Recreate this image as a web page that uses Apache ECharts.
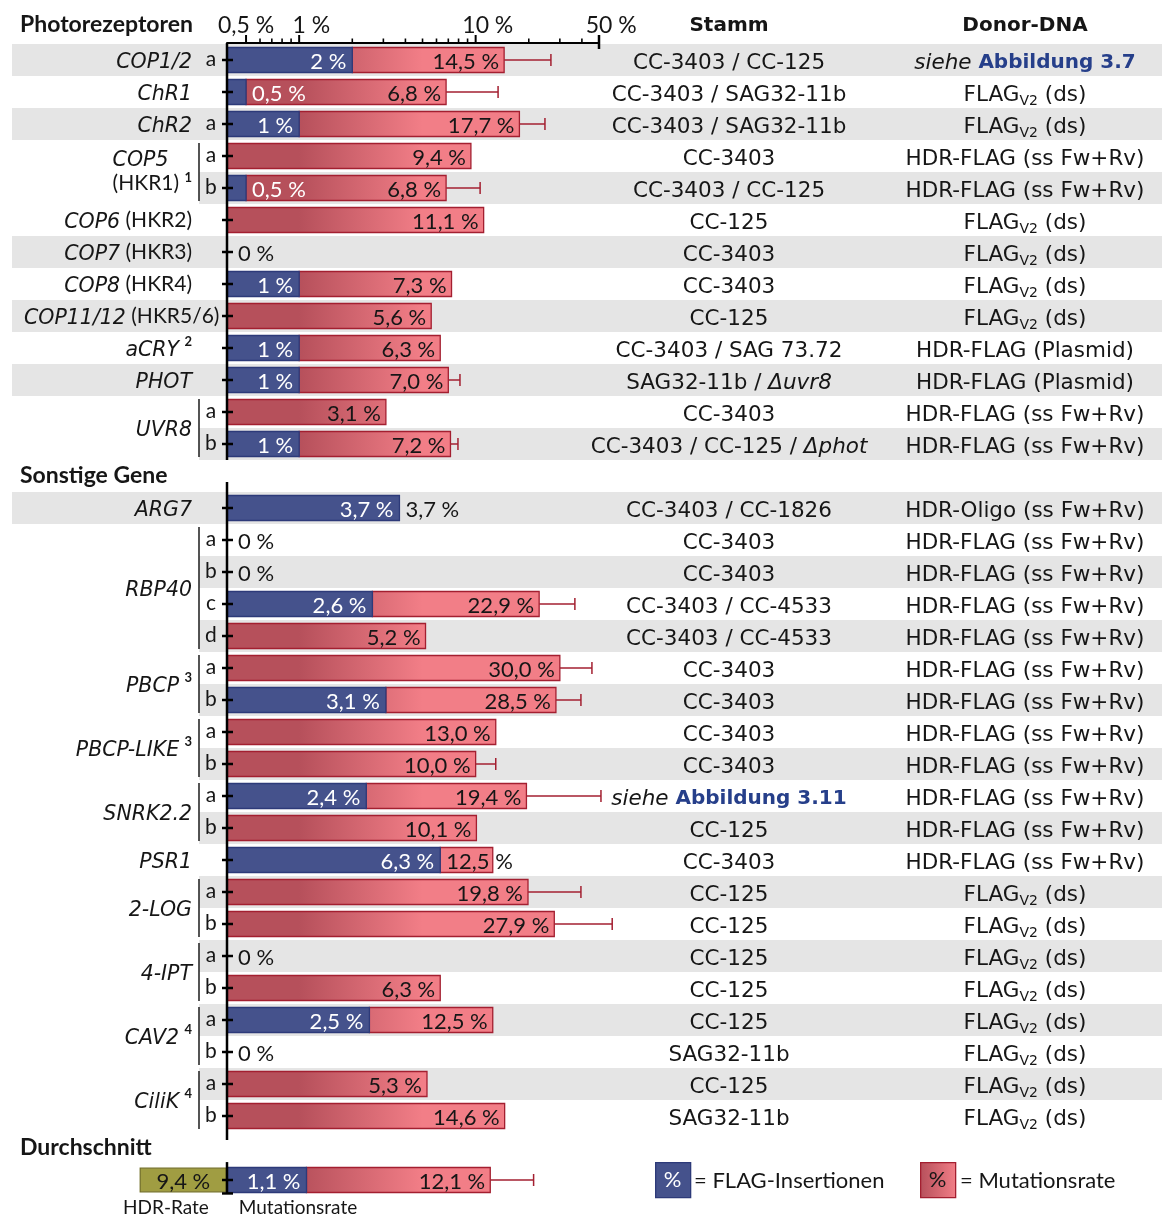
<!DOCTYPE html>
<html>
<head>
<meta charset="utf-8">
<script src="https://cdn.jsdelivr.net/npm/echarts@6/dist/echarts.min.js"></script>
<style>
  html, body { margin: 0; padding: 0; background: #ffffff; }
  #chart { width: 1162px; height: 1217px; }
</style>
</head>
<body>
<div id="chart"></div>
<script>
// ---------------------------------------------------------------
// Data
// ---------------------------------------------------------------
const sectionTitles = ['Photorezeptoren', 'Sonstige Gene', 'Durchschnitt'];
const sectionRowCounts = [13, 20];

// gene name (rich markup), shared by the rows of one gene
const geneLabels = [
  '{i|COP1/2}', '{i|ChR1}', '{i|ChR2}',
  '{i2|COP5}\n{n2|(HKR1) }{s2|1}', '{i2|COP5}\n{n2|(HKR1) }{s2|1}',
  '{i|COP6} (HKR2)', '{i|COP7} (HKR3)', '{i|COP8} (HKR4)', '{i|COP11/12} (HKR5/6)',
  '{i|aCRY} {s|2}', '{i|PHOT}', '{i|UVR8}', '{i|UVR8}',
  '{i|ARG7}',
  '{i|RBP40}', '{i|RBP40}', '{i|RBP40}', '{i|RBP40}',
  '{i|PBCP} {s|3}', '{i|PBCP} {s|3}',
  '{i|PBCP-LIKE} {s|3}', '{i|PBCP-LIKE} {s|3}',
  '{i|SNRK2.2}', '{i|SNRK2.2}',
  '{i|PSR1}',
  '{i|2-LOG}', '{i|2-LOG}',
  '{i|4-IPT}', '{i|4-IPT}',
  '{i|CAV2} {s|4}', '{i|CAV2} {s|4}',
  '{i|CiliK} {s|4}', '{i|CiliK} {s|4}'
];
const rowLetters = [
  'a', '', 'a', 'a', 'b', '', '', '', '', '', '', 'a', 'b',
  '', 'a', 'b', 'c', 'd', 'a', 'b', 'a', 'b', 'a', 'b', '', 'a', 'b', 'a', 'b', 'a', 'b', 'a', 'b'
];
// FLAG insertion rate (%)
const flagRate = [
  2, 0.5, 1, 0, 0.5, 0, 0, 1, 0, 1, 1, 0, 1,
  3.7, 0, 0, 2.6, 0, 0, 3.1, 0, 0, 2.4, 0, 6.3, 0, 0, 0, 0, 2.5, 0, 0, 0
];
// mutation rate (%)
const mutationRate = [
  14.5, 6.8, 17.7, 9.4, 6.8, 11.1, 0, 7.3, 5.6, 6.3, 7.0, 3.1, 7.2,
  3.7, 0, 0, 22.9, 5.2, 30.0, 28.5, 13.0, 10.0, 19.4, 10.1, 12.5, 19.8, 27.9, 0, 6.3, 12.5, 0, 5.3, 14.6
];
// upper end of the error whisker (%), null = none
const errorUpper = [
  26.7, 13.4, 24.7, null, 10.6, null, null, null, null, null, 8.15, null, 7.94,
  null, null, null, 36.5, null, 45.6, 39.5, null, 13.0, 51.3, null, null, 39.5, 59.4, null, null, null, null, null, null
];
const strains = [
  'CC-3403 / CC-125', 'CC-3403 / SAG32-11b', 'CC-3403 / SAG32-11b', 'CC-3403', 'CC-3403 / CC-125',
  'CC-125', 'CC-3403', 'CC-3403', 'CC-125', 'CC-3403 / SAG 73.72', 'SAG32-11b / {i|Δuvr8}',
  'CC-3403', 'CC-3403 / CC-125 / {i|Δphot}',
  'CC-3403 / CC-1826', 'CC-3403', 'CC-3403', 'CC-3403 / CC-4533', 'CC-3403 / CC-4533',
  'CC-3403', 'CC-3403', 'CC-3403', 'CC-3403', '{i|siehe} {b|Abbildung 3.11}', 'CC-125', 'CC-3403',
  'CC-125', 'CC-125', 'CC-125', 'CC-125', 'CC-125', 'SAG32-11b', 'CC-125', 'SAG32-11b'
];
const FLAGV2 = 'FLAG{sub|V2} (ds)';
const HDR_SS = 'HDR-FLAG (ss Fw+Rv)';
const donors = [
  '{i|siehe} {b|Abbildung 3.7}', FLAGV2, FLAGV2, HDR_SS, HDR_SS, FLAGV2, FLAGV2, FLAGV2, FLAGV2,
  'HDR-FLAG (Plasmid)', 'HDR-FLAG (Plasmid)', HDR_SS, HDR_SS,
  'HDR-Oligo (ss Fw+Rv)', HDR_SS, HDR_SS, HDR_SS, HDR_SS, HDR_SS, HDR_SS, HDR_SS, HDR_SS, HDR_SS, HDR_SS, HDR_SS,
  FLAGV2, FLAGV2, FLAGV2, FLAGV2, FLAGV2, FLAGV2, FLAGV2, FLAGV2
];
// averages
const avgHdrRate = 9.4;
const avgFlagRate = 1.1;
const avgMutationRate = 12.1;
const avgErrorUpper = 21.3;

// axis
const axisMin = 0.39, axisMax = 50;
const majorTicks = [0.5, 1, 10, 50];
const minorTicks = [0.6, 0.7, 0.8, 0.9, 2, 3, 4, 5, 6, 7, 8, 9, 20, 30, 40];

// ---------------------------------------------------------------
// Layout of rows (one slot per row, section titles take a slot)
// ---------------------------------------------------------------
const titleSlots = [];
const rowSlots = [];
let slotCursor = 0;
sectionRowCounts.forEach(n => {
  titleSlots.push(slotCursor++);
  for (let j = 0; j < n; j++) rowSlots.push(slotCursor++);
});
titleSlots.push(slotCursor++);
const avgSlot = slotCursor;
const Y_MIN = 0.46875, Y_MAX = avgSlot + 0.5;

// groups of consecutive rows sharing one gene name
const groups = [];
geneLabels.forEach((g, i) => {
  const last = groups[groups.length - 1];
  if (last && last.label === g && rowLetters[i]) last.rows.push(i);
  else groups.push({ label: g, rows: [i] });
});
const rowInBracket = geneLabels.map(() => false);
groups.forEach(g => { if (g.rows.length > 1) g.rows.forEach(i => { rowInBracket[i] = true; }); });

const barRows = rowSlots.map((slot, i) => ({
  slot, flag: flagRate[i], mut: mutationRate[i], err: errorUpper[i]
}));
barRows.push({ slot: avgSlot, flag: avgFlagRate, mut: avgMutationRate, err: avgErrorUpper });

// ---------------------------------------------------------------
// Styles
// ---------------------------------------------------------------
const LATO = 'Lato';
const COLF = 'DejaVu Sans';
const INK = '#161616';
const BLUE = '#45528c', BLUE_EDGE = '#2d3a79';
const RED_DARK = '#b6505b', RED_LIGHT = '#f27e87', RED_EDGE = '#a31f30';
const OLIVE = '#a09d42', OLIVE_EDGE = '#75722a';
const BAND = '#e5e5e5';
const LINK = '#263f8a';
const COL_SIZE = 21.5;
const GENE_SIZE = 20.5;

function tok(size, family, weight, style, extra) {
  return Object.assign({ fontSize: size, fontFamily: family, fontWeight: weight || 'normal', fontStyle: style || 'normal' }, extra || {});
}
const geneBase = tok(21, LATO, 'normal', 'normal');
// the oblique gene names sit a little lower than the upright parts
const geneRich = {
  i: tok(GENE_SIZE, COLF, 'normal', 'italic', { lineHeight: 26, padding: [5, 0, 0, 0] }),
  s: tok(13, LATO, 'bold', 'normal', { lineHeight: 20, verticalAlign: 'top' }),
  i2: tok(GENE_SIZE, COLF, 'normal', 'italic', { lineHeight: 25, align: 'left', padding: [5, 0, 0, 0] }),
  n2: tok(21, LATO, 'normal', 'normal', { lineHeight: 25, align: 'left' }),
  s2: tok(13, LATO, 'bold', 'normal', { lineHeight: 19, verticalAlign: 'top', align: 'left' })
};
const colRich = {
  i: tok(COL_SIZE, COLF, 'normal', 'italic', { lineHeight: 26 }),
  b: tok(20, COLF, 'bold', 'normal', { lineHeight: 26, fill: LINK }),
  sub: tok(14, COLF, 'normal', 'normal', { lineHeight: 18, verticalAlign: 'bottom' })
};

const measureCtx = document.createElement('canvas').getContext('2d');
function cssFont(t) { return t.fontStyle + ' ' + t.fontWeight + ' ' + t.fontSize + 'px "' + t.fontFamily + '"'; }
function textWidth(str, font) { measureCtx.font = font; return measureCtx.measureText(str).width; }
function fmt(v, oneDecimal) { return (oneDecimal ? v.toFixed(1) : String(v)).replace('.', ',') + ' %'; }
// width of a rich label: widest line, each token in its own font
function richWidth(markup, rich, base) {
  return Math.max.apply(null, markup.split('\n').map(l => {
    let w = 0;
    l.replace(/\{(\w+)\|([^}]*)\}|([^{]+)/g, (m, name, inner, plain) => {
      w += name ? textWidth(inner, cssFont(rich[name])) : textWidth(plain, cssFont(base));
      return m;
    });
    return w;
  }));
}

function line(x1, y1, x2, y2, w, color) {
  return { type: 'line', shape: { x1, y1, x2, y2 }, style: { stroke: color || '#000', lineWidth: w } };
}
function label(text, x, y, align, fill, size, family, weight, style, extra) {
  return {
    type: 'text',
    style: Object.assign({
      text, x, y, align, verticalAlign: 'middle', fill,
      fontSize: size, fontFamily: family, fontWeight: weight || 'normal', fontStyle: style || 'normal'
    }, extra || {})
  };
}

// ---------------------------------------------------------------
// Render functions
// ---------------------------------------------------------------
function renderBackdrop(params, api) {
  const c = [];
  const ax = api.coord([axisMin, 0])[0];
  const right = api.getWidth();
  rowSlots.forEach((slot, i) => {
    if (slot % 2 !== 1) return;
    const y = api.coord([axisMin, slot])[1];
    const left = rowInBracket[i] ? ax - 28 : 12;
    c.push({ type: 'rect', shape: { x: left, y: y - 16, width: right - left, height: 32 }, style: { fill: BAND } });
  });
  return { type: 'group', children: c };
}

function renderBars(params, api) {
  const r = barRows[params.dataIndex];
  const p0 = api.coord([axisMin, r.slot]);
  const x0 = p0[0], y = p0[1];
  const ty = y + 1.5;
  const h = 25;
  const c = [];
  const LBL = '22px Lato';
  if (!(r.mut > 0)) {
    c.push(label('0 %', x0 + 11, ty, 'left', INK, 22, LATO));
    return { type: 'group', children: c };
  }
  const xf = r.flag > 0 ? api.coord([r.flag, r.slot])[0] : x0;
  const xm = api.coord([r.mut, r.slot])[0];
  if (r.err) {
    const xe = api.coord([r.err, r.slot])[0];
    c.push(line(xm, y, xe, y, 1.5, RED_EDGE));
    c.push(line(xe, y - 6, xe, y + 6, 1.5, RED_EDGE));
  }
  if (xm > xf + 0.5) {
    const g0 = api.coord([1, r.slot])[0], g1 = api.coord([5, r.slot])[0];
    c.push({
      type: 'rect', shape: { x: xf, y: y - h / 2, width: xm - xf, height: h },
      style: {
        fill: { type: 'linear', x: g0, y: 0, x2: g1, y2: 0, global: true,
          colorStops: [{ offset: 0, color: RED_DARK }, { offset: 1, color: RED_LIGHT }] },
        stroke: RED_EDGE, lineWidth: 1.3
      }
    });
  }
  if (xf > x0) {
    c.push({ type: 'rect', shape: { x: x0, y: y - h / 2, width: xf - x0, height: h },
      style: { fill: BLUE, stroke: BLUE_EDGE, lineWidth: 1.3 } });
    const s = fmt(r.flag);
    const w = textWidth(s, LBL);
    if (xf - x0 >= w + 12) c.push(label(s, xf - 6, ty, 'right', '#ffffff', 22, LATO));
    else c.push(label(s, xf + 6, ty, 'left', '#ffffff', 22, LATO));
  }
  const m = fmt(r.mut, true);
  const wm = textWidth(m, LBL);
  if (xm - xf >= wm + 12) c.push(label(m, xm - 5, ty, 'right', INK, 22, LATO));
  else c.push(label(m, xf + 6, ty, 'left', INK, 22, LATO));
  return { type: 'group', children: c };
}

function renderFrame(params, api) {
  const c = [];
  const ax = api.coord([axisMin, 0])[0];
  const ay = k => api.coord([axisMin, k])[1];
  const topY = ay(Y_MIN);

  // x axis ticks and labels (numbers centred on their tick, the first label as a whole)
  minorTicks.forEach(v => {
    const x = api.coord([v, Y_MIN])[0];
    c.push(line(x, topY, x, topY - 4.5, 1.6));
  });
  majorTicks.forEach((v, i) => {
    const x = api.coord([v, Y_MIN])[0];
    c.push(line(x, topY, x, topY - 8, 2));
    const num = String(v).replace('.', ',');
    const text = i === 0 ? num + ' %' : '{h| %}' + num + ' %';
    c.push(label(text, x, topY - 17, 'center', INK, 23, LATO, 'normal', 'normal', {
      rich: { h: tok(23, LATO, 'normal', 'normal', { fill: 'rgba(0,0,0,0)' }) }
    }));
  });
  const xEnd = api.coord([axisMax, Y_MIN])[0];
  c.push(line(xEnd, topY - 8, xEnd, topY + 6, 2.5));

  // y axis, broken at the section titles
  [[Y_MIN, 13.5], [14.19, 34.75], [35.44, 36.42]].forEach(([k0, k1]) => {
    c.push(line(ax, ay(k0), ax, ay(k1), 2.5));
  });
  c.push(line(ax - 5, ay(36.42), ax + 6, ay(36.42), 2.5));
  barRows.forEach(r => {
    const y = ay(r.slot);
    c.push(line(ax - 5, y, ax + 6, y, 2.5));
  });

  // section titles
  sectionTitles.forEach((t, i) => {
    const y = ay(titleSlots[i]) - (i === 0 ? 3 : 0);
    c.push(label(t, 20, y, 'left', INK, 23, LATO, 'bold'));
  });
  c.push(label('Stamm', 729, ay(0) - 2, 'center', INK, 20, COLF, 'bold'));
  c.push(label('Donor-DNA', 1025, ay(0) - 2, 'center', INK, 20, COLF, 'bold'));

  // gene names, brackets and letters
  groups.forEach(g => {
    const ys = g.rows.map(i => ay(rowSlots[i]));
    const yMid = (ys[0] + ys[ys.length - 1]) / 2;
    const twoLine = g.label.indexOf('\n') >= 0;
    // long names are pushed right so they start at the band edge
    const xr = Math.max(ax - 35, 24 + richWidth(g.label, geneRich, geneBase));
    c.push(label(g.label, xr, yMid + (twoLine ? -1 : 0), 'right', INK, 21, LATO, 'normal', 'normal', {
      rich: geneRich, lineHeight: 26
    }));
    if (g.rows.length > 1) {
      c.push(line(ax - 28, ys[0] - 13, ax - 28, ys[ys.length - 1] + 13, 1.6, '#2a2a2a'));
    }
  });
  rowLetters.forEach((l, i) => {
    if (l) c.push(label(l, ax - 16, ay(rowSlots[i]) - 1, 'center', INK, 21, LATO));
  });

  // strain and donor columns
  rowSlots.forEach((slot, i) => {
    const y = ay(slot) + 3;
    c.push(label(strains[i], 729, y, 'center', INK, COL_SIZE, COLF, 'normal', 'normal', { rich: colRich, lineHeight: 26 }));
    c.push(label(donors[i], 1025, y, 'center', INK, COL_SIZE, COLF, 'normal', 'normal', { rich: colRich, lineHeight: 26 }));
  });

  // captions under the average row
  const yCap = ay(avgSlot) + 28;
  c.push(label('HDR-Rate', ax - 61, yCap, 'center', INK, 19, LATO));
  c.push(label('Mutationsrate', ax + 71, yCap, 'center', INK, 19, LATO));
  return { type: 'group', children: c };
}

// ---------------------------------------------------------------
// Chart
// ---------------------------------------------------------------
const chart = echarts.init(document.getElementById('chart'), null, { renderer: 'canvas' });

chart.setOption({
  animation: false,
  backgroundColor: '#ffffff',
  grid: [
    { left: 227, right: 563, top: 43, bottom: 21 },
    { left: 134, width: 93, top: 1167.5, height: 25 }
  ],
  xAxis: [
    {
      gridIndex: 0, type: 'log', logBase: 10, min: axisMin, max: axisMax, position: 'top',
      axisLine: { show: true, onZero: false, lineStyle: { color: '#000', width: 2 } },
      axisTick: { show: false }, axisLabel: { show: false }, splitLine: { show: false }
    },
    { gridIndex: 1, type: 'value', inverse: true, min: 0, max: 10, show: false }
  ],
  yAxis: [
    { gridIndex: 0, type: 'value', inverse: true, min: Y_MIN, max: Y_MAX, show: false },
    { gridIndex: 1, type: 'category', data: [''], show: false }
  ],
  graphic: [
    { type: 'rect', left: 655, top: 1162, shape: { width: 35, height: 35 }, style: { fill: BLUE, stroke: BLUE_EDGE, lineWidth: 1.3 } },
    { type: 'text', x: 672.5, y: 1180, style: { text: '%', align: 'center', verticalAlign: 'middle', fill: '#fff', fontSize: 22, fontFamily: LATO } },
    { type: 'text', x: 694, y: 1181, style: { text: '= FLAG-Insertionen', align: 'left', verticalAlign: 'middle', fill: INK, fontSize: 22, fontFamily: LATO } },
    { type: 'rect', left: 920, top: 1162, shape: { width: 35, height: 35 },
      style: { fill: new echarts.graphic.LinearGradient(0, 0, 1, 0, [{ offset: 0, color: RED_DARK }, { offset: 1, color: RED_LIGHT }]), stroke: RED_EDGE, lineWidth: 1.3 } },
    { type: 'text', x: 937.5, y: 1180, style: { text: '%', align: 'center', verticalAlign: 'middle', fill: INK, fontSize: 22, fontFamily: LATO } },
    { type: 'text', x: 960, y: 1181, style: { text: '= Mutationsrate', align: 'left', verticalAlign: 'middle', fill: INK, fontSize: 22, fontFamily: LATO } }
  ],
  series: [
    {
      type: 'custom', name: 'bands', coordinateSystem: 'cartesian2d', xAxisIndex: 0, yAxisIndex: 0,
      z: 1, silent: true, clip: false, renderItem: renderBackdrop,
      data: [[axisMin, Y_MIN]], encode: { x: 0, y: 1 }
    },
    {
      type: 'custom', name: 'Raten', coordinateSystem: 'cartesian2d', xAxisIndex: 0, yAxisIndex: 0,
      z: 3, silent: true, clip: false, renderItem: renderBars,
      data: barRows.map(r => [Math.max(r.mut, axisMin), r.slot]), encode: { x: 0, y: 1 }
    },
    {
      type: 'custom', name: 'frame', coordinateSystem: 'cartesian2d', xAxisIndex: 0, yAxisIndex: 0,
      z: 5, silent: true, clip: false, renderItem: renderFrame,
      data: [[axisMin, Y_MIN]], encode: { x: 0, y: 1 }
    },
    {
      type: 'bar', name: 'HDR-Rate', xAxisIndex: 1, yAxisIndex: 1, barWidth: 25, z: 3, silent: true,
      data: [avgHdrRate],
      itemStyle: { color: OLIVE, borderColor: OLIVE_EDGE, borderWidth: 1.3 },
      label: { show: true, position: 'inside', offset: [0, 1.5], formatter: p => fmt(p.value, true), color: INK, fontSize: 22, fontFamily: LATO }
    }
  ]
});
</script>
</body>
</html>
